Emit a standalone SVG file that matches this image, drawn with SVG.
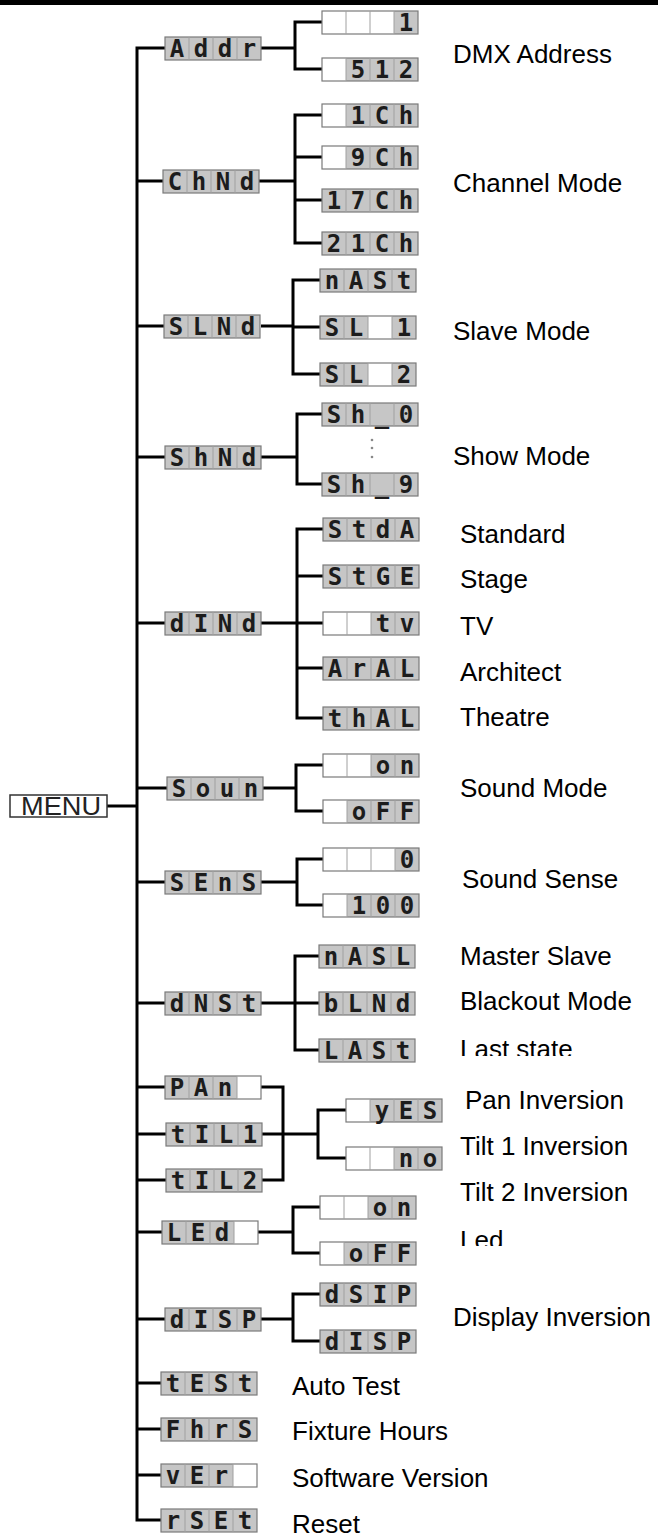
<svg xmlns="http://www.w3.org/2000/svg" xmlns:xlink="http://www.w3.org/1999/xlink" width="658" height="1538" viewBox="0 0 658 1538">
<style>
.bg{fill:#fff}
.c{fill:#c6c6c6}
.grid{fill:none;stroke:#7a7a7a;stroke-width:1.2}
.div{stroke:#a0a0a0;stroke-width:1}
.seg{font-family:"DejaVu Sans Mono",monospace;font-weight:bold;font-size:24px;fill:#1c1c1c;text-anchor:middle}
.lbl{font-family:"Liberation Sans",Arial,sans-serif;font-size:26px;fill:#000}
.menu{font-family:"Liberation Sans",Arial,sans-serif;font-size:25px;fill:#222}
.con{fill:none;stroke:#000;stroke-width:3}
</style>
<defs>
<g id="grid"><rect class="grid" x="0" y="0" width="96" height="23"/><path class="div" d="M24,0V23M48,0V23M72,0V23"/></g>
<clipPath id="clipLast"><rect x="440" y="1030" width="218" height="26"/></clipPath>
<clipPath id="clipLed"><rect x="440" y="1220" width="218" height="26"/></clipPath>
</defs>
<rect x="0" y="0" width="658" height="5" fill="#000"/>

<g id="connectors" class="con">
<path d="M107,806H137"/>
<path d="M165,48H137V1520H161"/>
<path d="M137,181H163M137,326H164M137,457H165M137,623H165M137,788H167M137,882H165M137,1003H165M137,1087H165M137,1134H166M137,1180H166M137,1232H162M137,1319H165M137,1383H161M137,1429H161M137,1475H161"/>
<path d="M261,48H295M322,22H295V69H322"/>
<path d="M259,181H295M322,115H295V243H322M295,157H322M295,200H322"/>
<path d="M261,326H293M320,280H293V374H320M293,327H320"/>
<path d="M261,457H297M322,414H297V484H322"/>
<path d="M261,623H297M323,529H297V718H323M297,576H323M297,623H323M297,668H323"/>
<path d="M263,788H296M323,765H296V811H323"/>
<path d="M261,882H297M323,859H297V905H323"/>
<path d="M261,1003H295M319,956H295V1050H319M295,1003H319"/>
<path d="M261,1087H283V1180H262M262,1134H318M346,1110H318V1158H346"/>
<path d="M258,1232H293M320,1207H293V1253H320"/>
<path d="M261,1319H293M320,1294H293V1341H320"/>
</g>

<g id="menu"><rect x="10" y="795" width="97" height="22" fill="#fff" stroke="#333" stroke-width="1.5"/><text class="menu" x="21" y="815" textLength="80" lengthAdjust="spacingAndGlyphs">MENU</text></g>

<!-- level 1 -->
<g id="n-addr" transform="translate(165,37)"><rect class="bg" width="96" height="23"/><rect class="c" x="0" width="96" height="23"/><use xlink:href="#grid"/><text class="seg" x="12 36 60 84" y="20" xml:space="preserve">Addr</text></g>
<g id="n-chnd" transform="translate(163,170)"><rect class="bg" width="96" height="23"/><rect class="c" x="0" width="96" height="23"/><use xlink:href="#grid"/><text class="seg" x="12 36 60 84" y="20" xml:space="preserve">ChNd</text></g>
<g id="n-slnd" transform="translate(164,315)"><rect class="bg" width="96" height="23"/><rect class="c" x="0" width="96" height="23"/><use xlink:href="#grid"/><text class="seg" x="12 36 60 84" y="20" xml:space="preserve">SLNd</text></g>
<g id="n-shnd" transform="translate(165,446)"><rect class="bg" width="96" height="23"/><rect class="c" x="0" width="96" height="23"/><use xlink:href="#grid"/><text class="seg" x="12 36 60 84" y="20" xml:space="preserve">ShNd</text></g>
<g id="n-dind" transform="translate(165,612)"><rect class="bg" width="96" height="23"/><rect class="c" x="0" width="96" height="23"/><use xlink:href="#grid"/><text class="seg" x="12 36 60 84" y="20" xml:space="preserve">dINd</text></g>
<g id="n-soun" transform="translate(167,777)"><rect class="bg" width="96" height="23"/><rect class="c" x="0" width="96" height="23"/><use xlink:href="#grid"/><text class="seg" x="12 36 60 84" y="20" xml:space="preserve">Soun</text></g>
<g id="n-sens" transform="translate(165,871)"><rect class="bg" width="96" height="23"/><rect class="c" x="0" width="96" height="23"/><use xlink:href="#grid"/><text class="seg" x="12 36 60 84" y="20" xml:space="preserve">SEnS</text></g>
<g id="n-dnst" transform="translate(165,992)"><rect class="bg" width="96" height="23"/><rect class="c" x="0" width="96" height="23"/><use xlink:href="#grid"/><text class="seg" x="12 36 60 84" y="20" xml:space="preserve">dNSt</text></g>
<g id="n-pan" transform="translate(165,1076)"><rect class="bg" width="96" height="23"/><rect class="c" x="0" width="72" height="23"/><use xlink:href="#grid"/><text class="seg" x="12 36 60 84" y="20" xml:space="preserve">PAn </text></g>
<g id="n-til1" transform="translate(166,1123)"><rect class="bg" width="96" height="23"/><rect class="c" x="0" width="96" height="23"/><use xlink:href="#grid"/><text class="seg" x="12 36 60 84" y="20" xml:space="preserve">tIL1</text></g>
<g id="n-til2" transform="translate(166,1169)"><rect class="bg" width="96" height="23"/><rect class="c" x="0" width="96" height="23"/><use xlink:href="#grid"/><text class="seg" x="12 36 60 84" y="20" xml:space="preserve">tIL2</text></g>
<g id="n-led" transform="translate(162,1221)"><rect class="bg" width="96" height="23"/><rect class="c" x="0" width="72" height="23"/><use xlink:href="#grid"/><text class="seg" x="12 36 60 84" y="20" xml:space="preserve">LEd </text></g>
<g id="n-disp" transform="translate(165,1308)"><rect class="bg" width="96" height="23"/><rect class="c" x="0" width="96" height="23"/><use xlink:href="#grid"/><text class="seg" x="12 36 60 84" y="20" xml:space="preserve">dISP</text></g>
<g id="n-test" transform="translate(161,1372)"><rect class="bg" width="96" height="23"/><rect class="c" x="0" width="96" height="23"/><use xlink:href="#grid"/><text class="seg" x="12 36 60 84" y="20" xml:space="preserve">tESt</text></g>
<g id="n-fhrs" transform="translate(161,1418)"><rect class="bg" width="96" height="23"/><rect class="c" x="0" width="96" height="23"/><use xlink:href="#grid"/><text class="seg" x="12 36 60 84" y="20" xml:space="preserve">FhrS</text></g>
<g id="n-ver" transform="translate(161,1464)"><rect class="bg" width="96" height="23"/><rect class="c" x="0" width="72" height="23"/><use xlink:href="#grid"/><text class="seg" x="12 36 60 84" y="20" xml:space="preserve">vEr </text></g>
<g id="n-rset" transform="translate(161,1509)"><rect class="bg" width="96" height="23"/><rect class="c" x="0" width="96" height="23"/><use xlink:href="#grid"/><text class="seg" x="12 36 60 84" y="20" xml:space="preserve">rSEt</text></g>

<!-- level 2 -->
<g id="s-addr1" transform="translate(322,11)"><rect class="bg" width="96" height="23"/><rect class="c" x="72" width="24" height="23"/><use xlink:href="#grid"/><text class="seg" x="12 36 60 84" y="20" xml:space="preserve">   1</text></g>
<g id="s-addr512" transform="translate(322,58)"><rect class="bg" width="96" height="23"/><rect class="c" x="24" width="72" height="23"/><use xlink:href="#grid"/><text class="seg" x="12 36 60 84" y="20" xml:space="preserve"> 512</text></g>
<g id="s-1ch" transform="translate(322,104)"><rect class="bg" width="96" height="23"/><rect class="c" x="24" width="72" height="23"/><use xlink:href="#grid"/><text class="seg" x="12 36 60 84" y="20" xml:space="preserve"> 1Ch</text></g>
<g id="s-9ch" transform="translate(322,146)"><rect class="bg" width="96" height="23"/><rect class="c" x="24" width="72" height="23"/><use xlink:href="#grid"/><text class="seg" x="12 36 60 84" y="20" xml:space="preserve"> 9Ch</text></g>
<g id="s-17ch" transform="translate(322,189)"><rect class="bg" width="96" height="23"/><rect class="c" x="0" width="96" height="23"/><use xlink:href="#grid"/><text class="seg" x="12 36 60 84" y="20" xml:space="preserve">17Ch</text></g>
<g id="s-21ch" transform="translate(322,232)"><rect class="bg" width="96" height="23"/><rect class="c" x="0" width="96" height="23"/><use xlink:href="#grid"/><text class="seg" x="12 36 60 84" y="20" xml:space="preserve">21Ch</text></g>
<g id="s-nast" transform="translate(320,269)"><rect class="bg" width="96" height="23"/><rect class="c" x="0" width="96" height="23"/><use xlink:href="#grid"/><text class="seg" x="12 36 60 84" y="20" xml:space="preserve">nASt</text></g>
<g id="s-sl1" transform="translate(320,316)"><rect class="bg" width="96" height="23"/><rect class="c" x="0" width="48" height="23"/><rect class="c" x="72" width="24" height="23"/><use xlink:href="#grid"/><text class="seg" x="12 36 60 84" y="20" xml:space="preserve">SL 1</text></g>
<g id="s-sl2" transform="translate(320,363)"><rect class="bg" width="96" height="23"/><rect class="c" x="0" width="48" height="23"/><rect class="c" x="72" width="24" height="23"/><use xlink:href="#grid"/><text class="seg" x="12 36 60 84" y="20" xml:space="preserve">SL 2</text></g>
<g id="s-sh0" transform="translate(322,403)"><rect class="bg" width="96" height="23"/><rect class="c" x="0" width="96" height="23"/><use xlink:href="#grid"/><text class="seg" x="12 36 60 84" y="20" xml:space="preserve">Sh_0</text></g>
<g id="s-dots"><circle cx="372" cy="440" r="1.3" fill="#888"/><circle cx="372" cy="448" r="1.3" fill="#888"/><circle cx="372" cy="457" r="1.3" fill="#888"/></g>
<g id="s-sh9" transform="translate(322,473)"><rect class="bg" width="96" height="23"/><rect class="c" x="0" width="96" height="23"/><use xlink:href="#grid"/><text class="seg" x="12 36 60 84" y="20" xml:space="preserve">Sh_9</text></g>
<g id="s-stda" transform="translate(323,518)"><rect class="bg" width="96" height="23"/><rect class="c" x="0" width="96" height="23"/><use xlink:href="#grid"/><text class="seg" x="12 36 60 84" y="20" xml:space="preserve">StdA</text></g>
<g id="s-stge" transform="translate(323,565)"><rect class="bg" width="96" height="23"/><rect class="c" x="0" width="96" height="23"/><use xlink:href="#grid"/><text class="seg" x="12 36 60 84" y="20" xml:space="preserve">StGE</text></g>
<g id="s-tv" transform="translate(323,612)"><rect class="bg" width="96" height="23"/><rect class="c" x="48" width="48" height="23"/><use xlink:href="#grid"/><text class="seg" x="12 36 60 84" y="20" xml:space="preserve">  tv</text></g>
<g id="s-aral" transform="translate(323,657)"><rect class="bg" width="96" height="23"/><rect class="c" x="0" width="96" height="23"/><use xlink:href="#grid"/><text class="seg" x="12 36 60 84" y="20" xml:space="preserve">ArAL</text></g>
<g id="s-thal" transform="translate(323,707)"><rect class="bg" width="96" height="23"/><rect class="c" x="0" width="96" height="23"/><use xlink:href="#grid"/><text class="seg" x="12 36 60 84" y="20" xml:space="preserve">thAL</text></g>
<g id="s-son" transform="translate(323,754)"><rect class="bg" width="96" height="23"/><rect class="c" x="48" width="48" height="23"/><use xlink:href="#grid"/><text class="seg" x="12 36 60 84" y="20" xml:space="preserve">  on</text></g>
<g id="s-soff" transform="translate(323,800)"><rect class="bg" width="96" height="23"/><rect class="c" x="24" width="72" height="23"/><use xlink:href="#grid"/><text class="seg" x="12 36 60 84" y="20" xml:space="preserve"> oFF</text></g>
<g id="s-sens0" transform="translate(323,848)"><rect class="bg" width="96" height="23"/><rect class="c" x="72" width="24" height="23"/><use xlink:href="#grid"/><text class="seg" x="12 36 60 84" y="20" xml:space="preserve">   0</text></g>
<g id="s-sens100" transform="translate(323,894)"><rect class="bg" width="96" height="23"/><rect class="c" x="24" width="72" height="23"/><use xlink:href="#grid"/><text class="seg" x="12 36 60 84" y="20" xml:space="preserve"> 100</text></g>
<g id="s-nasl" transform="translate(319,945)"><rect class="bg" width="96" height="23"/><rect class="c" x="0" width="96" height="23"/><use xlink:href="#grid"/><text class="seg" x="12 36 60 84" y="20" xml:space="preserve">nASL</text></g>
<g id="s-blnd" transform="translate(319,992)"><rect class="bg" width="96" height="23"/><rect class="c" x="0" width="96" height="23"/><use xlink:href="#grid"/><text class="seg" x="12 36 60 84" y="20" xml:space="preserve">bLNd</text></g>
<g id="s-last" transform="translate(319,1039)"><rect class="bg" width="96" height="23"/><rect class="c" x="0" width="96" height="23"/><use xlink:href="#grid"/><text class="seg" x="12 36 60 84" y="20" xml:space="preserve">LASt</text></g>
<g id="s-yes" transform="translate(346,1099)"><rect class="bg" width="96" height="23"/><rect class="c" x="24" width="72" height="23"/><use xlink:href="#grid"/><text class="seg" x="12 36 60 84" y="20" xml:space="preserve"> yES</text></g>
<g id="s-no" transform="translate(346,1147)"><rect class="bg" width="96" height="23"/><rect class="c" x="48" width="48" height="23"/><use xlink:href="#grid"/><text class="seg" x="12 36 60 84" y="20" xml:space="preserve">  no</text></g>
<g id="s-lon" transform="translate(320,1196)"><rect class="bg" width="96" height="23"/><rect class="c" x="48" width="48" height="23"/><use xlink:href="#grid"/><text class="seg" x="12 36 60 84" y="20" xml:space="preserve">  on</text></g>
<g id="s-loff" transform="translate(320,1242)"><rect class="bg" width="96" height="23"/><rect class="c" x="24" width="72" height="23"/><use xlink:href="#grid"/><text class="seg" x="12 36 60 84" y="20" xml:space="preserve"> oFF</text></g>
<g id="s-dsip" transform="translate(320,1283)"><rect class="bg" width="96" height="23"/><rect class="c" x="0" width="96" height="23"/><use xlink:href="#grid"/><text class="seg" x="12 36 60 84" y="20" xml:space="preserve">dSIP</text></g>
<g id="s-disp" transform="translate(320,1330)"><rect class="bg" width="96" height="23"/><rect class="c" x="0" width="96" height="23"/><use xlink:href="#grid"/><text class="seg" x="12 36 60 84" y="20" xml:space="preserve">dISP</text></g>

<g id="labels" class="lbl">
<text x="453" y="63">DMX Address</text>
<text x="453" y="192">Channel Mode</text>
<text x="453" y="340">Slave Mode</text>
<text x="453" y="465">Show Mode</text>
<text x="460" y="543">Standard</text>
<text x="460" y="588">Stage</text>
<text x="460" y="635">TV</text>
<text x="460" y="681">Architect</text>
<text x="460" y="726">Theatre</text>
<text x="460" y="797">Sound Mode</text>
<text x="462" y="888">Sound Sense</text>
<text x="460" y="965">Master Slave</text>
<text x="460" y="1010">Blackout Mode</text>
<text x="460" y="1058" clip-path="url(#clipLast)">Last state</text>
<text x="465" y="1109">Pan Inversion</text>
<text x="460" y="1155">Tilt 1 Inversion</text>
<text x="460" y="1201">Tilt 2 Inversion</text>
<text x="460" y="1249" clip-path="url(#clipLed)">Led</text>
<text x="453" y="1326">Display Inversion</text>
<text x="292" y="1395">Auto Test</text>
<text x="292" y="1440">Fixture Hours</text>
<text x="292" y="1487">Software Version</text>
<text x="292" y="1533">Reset</text>
</g>
</svg>
